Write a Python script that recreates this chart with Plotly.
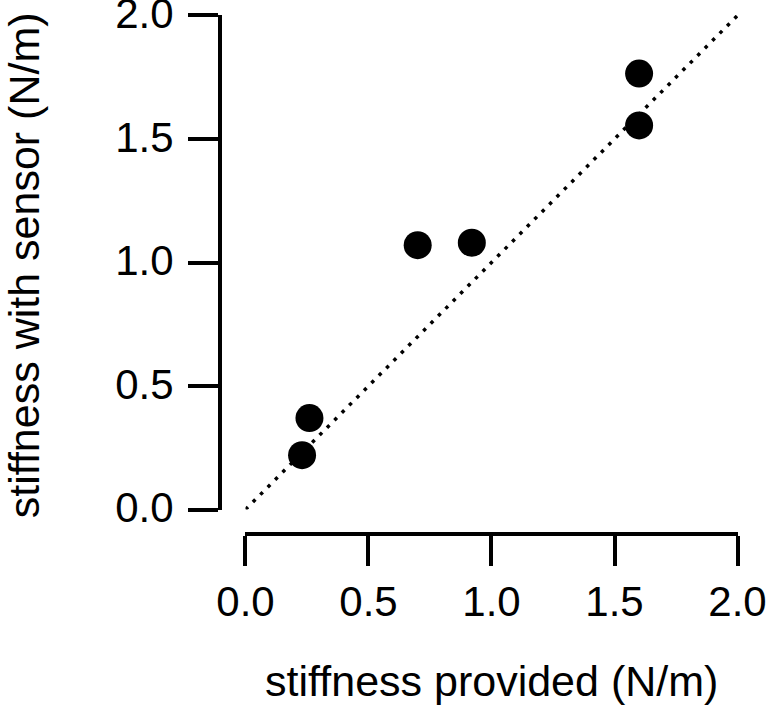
import plotly.graph_objects as go

# stiffness values (N/m)
provided = [0.23, 0.26, 0.70, 0.92, 1.60, 1.60]
with_sensor = [0.22, 0.37, 1.07, 1.08, 1.555, 1.765]

# identity reference line
ref_x = [0.0, 2.0]
ref_y = [0.0, 2.0]

tick_vals = [0.0, 0.5, 1.0, 1.5, 2.0]
tick_text = ["0.0", "0.5", "1.0", "1.5", "2.0"]

FONT = "Liberation Sans, Arial, sans-serif"

fig = go.Figure()
fig.add_trace(go.Scatter(
    x=ref_x, y=ref_y, mode="lines",
    line=dict(color="black", width=3.5, dash="3.5px,7px"),
    hoverinfo="skip",
))
fig.add_trace(go.Scatter(
    x=provided, y=with_sensor, mode="markers",
    marker=dict(color="black", size=28, line=dict(width=0)),
))

axis_common = dict(
    range=[0, 2.002],
    tickvals=tick_vals,
    ticktext=tick_text,
    ticks="outside",
    ticklen=30,
    tickwidth=4,
    tickcolor="black",
    showline=True,
    linewidth=4,
    linecolor="black",
    showgrid=False,
    zeroline=False,
    anchor="free",
    position=0,
    automargin=False,
    ticklabeloverflow="allow",
    tickfont=dict(family=FONT, size=42, color="black"),
)

fig.update_layout(
    width=767, height=709,
    margin=dict(l=220, r=29, t=15, b=175),
    paper_bgcolor="white",
    plot_bgcolor="white",
    showlegend=False,
    font=dict(family=FONT, size=43, color="black"),
    xaxis=dict(
        axis_common,
        domain=[0.0492, 1],
        title=dict(text="stiffness provided (N/m)", font=dict(size=43), standoff=40),
    ),
    yaxis=dict(
        axis_common,
        domain=[0.0472, 1],
        ticklabelstandoff=6,
        ticklabelshift=-2,
    ),
)

# y title as an annotation so it can sit closer to the left edge
fig.add_annotation(
    text="stiffness with sensor (N/m)",
    textangle=-90,
    xref="paper", yref="paper",
    x=0, y=0.5236,
    xanchor="center", yanchor="middle",
    xshift=-196, yshift=-3,
    showarrow=False,
    font=dict(family=FONT, size=43, color="black"),
)

# drop the default 8px body margin so the figure starts at the page corner
fig.write_html(
    "out.html",
    config={"displayModeBar": False},
    post_script="document.body.style.margin = '0';",
)
